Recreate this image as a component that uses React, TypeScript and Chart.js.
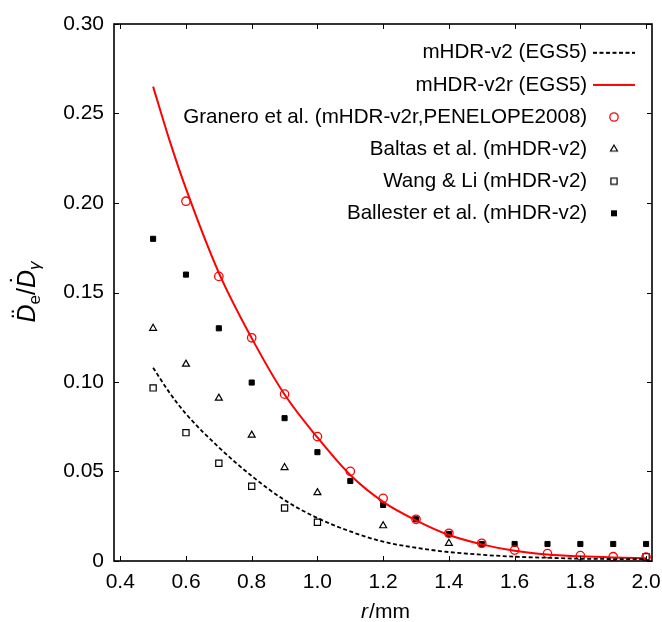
import React, { useEffect, useRef } from 'react';
import { Chart, registerables } from 'chart.js';

Chart.register(...registerables);

// ---- data ----
const curveX = [0.5, 0.55, 0.6, 0.7, 0.8, 0.9, 1.0, 1.1, 1.2, 1.3, 1.4, 1.5, 1.6, 1.7, 1.8, 1.9, 2.0];
const mhdrV2Egs5 = [0.108, 0.094, 0.0822, 0.0635, 0.0475, 0.034, 0.024, 0.0165, 0.0108, 0.0074, 0.005, 0.0035, 0.0024, 0.0018, 0.0013, 0.0011, 0.001];
const mhdrV2rEgs5 = [0.265, 0.235, 0.208, 0.161, 0.1245, 0.093, 0.069, 0.048, 0.033, 0.0227, 0.0145, 0.0093, 0.0057, 0.0036, 0.0026, 0.002, 0.0016];

const graneroX = [0.6, 0.7, 0.8, 0.9, 1.0, 1.1, 1.2, 1.3, 1.4, 1.5, 1.6, 1.7, 1.8, 1.9, 2.0];
const graneroY = [0.201, 0.159, 0.1247, 0.0932, 0.0695, 0.0501, 0.035, 0.0233, 0.0155, 0.0099, 0.0061, 0.0041, 0.003, 0.0024, 0.0022];

const baltasX = [0.5, 0.6, 0.7, 0.8, 0.9, 1.0, 1.2, 1.4];
const baltasY = [0.13, 0.11, 0.091, 0.0703, 0.0522, 0.0382, 0.0197, 0.0099];

const wangX = [0.5, 0.6, 0.7, 0.8, 0.9, 1.0, 2.0];
const wangY = [0.0967, 0.0717, 0.0546, 0.0418, 0.0296, 0.0216, 0.0024];

const ballesterX = [0.5, 0.6, 0.7, 0.8, 0.9, 1.0, 1.1, 1.2, 1.3, 1.4, 1.5, 1.6, 1.7, 1.8, 1.9, 2.0];
const ballesterY = [0.18, 0.16, 0.13, 0.0997, 0.0798, 0.0608, 0.0447, 0.0313, 0.0233, 0.0151, 0.0095, 0.0095, 0.0095, 0.0095, 0.0095, 0.0095];

const legendLabels = [
  'mHDR-v2 (EGS5)',
  'mHDR-v2r (EGS5)',
  'Granero et al. (mHDR-v2r,PENELOPE2008)',
  'Baltas et al. (mHDR-v2)',
  'Wang & Li (mHDR-v2)',
  'Ballester et al. (mHDR-v2)',
];

const xTicks = [0.4, 0.6, 0.8, 1.0, 1.2, 1.4, 1.6, 1.8, 2.0];
const yTicks = [0, 0.05, 0.1, 0.15, 0.2, 0.25, 0.3];
const xTitleItalic = 'r';
const xTitleRest = '/mm';

const FONT = "'Liberation Sans', Arial, sans-serif";
const RED = '#ff0000';

const zip = (xs: number[], ys: number[]) => xs.map((x, i) => ({ x, y: ys[i] }));

function makeIcon(draw: (c: CanvasRenderingContext2D, cx: number, cy: number) => void) {
  const cv = document.createElement('canvas');
  cv.width = 52;
  cv.height = 14;
  const c = cv.getContext('2d')!;
  draw(c, 21, 7);
  return cv;
}

// places the legend box against the top-right corner of the plot area
const legendCorner = {
  id: 'legendCorner',
  afterLayout(chart: any) {
    const lg = chart.legend;
    const a = chart.chartArea;
    if (!lg || !a) return;
    lg.left = a.right - lg.width;
    lg.right = a.right;
    lg.top = a.top;
    lg.bottom = a.top + lg.height;
  },
};

const frameAndTicks = {
  id: 'frameAndTicks',
  afterDatasetsDraw(chart: any) {
    const { ctx, chartArea: a, scales } = chart;
    ctx.save();
    ctx.strokeStyle = '#000';
    ctx.lineWidth = 1;
    const L = 5;
    ctx.beginPath();
    for (const v of xTicks) {
      const px = Math.round(scales.x.getPixelForValue(v)) + 0.5;
      ctx.moveTo(px, a.bottom);
      ctx.lineTo(px, a.bottom - L);
      ctx.moveTo(px, a.top);
      ctx.lineTo(px, a.top + L);
    }
    for (const v of yTicks) {
      const py = Math.round(scales.y.getPixelForValue(v)) + 0.5;
      ctx.moveTo(a.left, py);
      ctx.lineTo(a.left + L, py);
      ctx.moveTo(a.right, py);
      ctx.lineTo(a.right - L, py);
    }
    ctx.stroke();
    ctx.lineWidth = 1.6;
    ctx.strokeRect(a.left, a.top, a.right - a.left, a.bottom - a.top);
    ctx.restore();
  },
  afterDraw(chart: any) {
    const { ctx, chartArea: a } = chart;
    ctx.save();
    ctx.fillStyle = '#000';
    ctx.textBaseline = 'alphabetic';
    ctx.textAlign = 'left';
    // x title
    ctx.font = `italic 21px ${FONT}`;
    const w1 = ctx.measureText(xTitleItalic).width;
    ctx.font = `21px ${FONT}`;
    const w2 = ctx.measureText(xTitleRest).width;
    const cx = (a.left + a.right) / 2 + 2;
    const x0 = cx - (w1 + w2) / 2;
    ctx.font = `italic 21px ${FONT}`;
    ctx.fillText(xTitleItalic, x0, 618);
    ctx.font = `21px ${FONT}`;
    ctx.fillText(xTitleRest, x0 + w1 + 1, 618);

    // y title: D̈e / Ḋγ
    ctx.translate(35, 292);
    ctx.rotate(-Math.PI / 2);
    const big = `italic 25px ${FONT}`;
    const bigUp = `25px ${FONT}`;
    const sub = `17px ${FONT}`;
    const subIt = `italic 17px ${FONT}`;
    const segs: [string, string, number, string][] = [
      ['D', big, 0, '\u00A8'],
      ['e', sub, 5, ''],
      ['/', bigUp, 0, ''],
      ['D', big, 0, '\u02D9'],
      ['\u03B3', subIt, 5, ''],
    ];
    let total = 0;
    const widths = segs.map(([t, f]) => {
      ctx.font = f;
      const w = ctx.measureText(t).width;
      total += w;
      return w;
    });
    let x = -total / 2;
    segs.forEach(([t, f, dy, acc], i) => {
      ctx.font = f;
      ctx.fillText(t, x, dy);
      if (acc) {
        ctx.font = `25px ${FONT}`;
        ctx.textAlign = 'center';
        ctx.fillText(acc, x + widths[i] * 0.5, -6);
        ctx.textAlign = 'left';
      }
      x += widths[i];
    });
    ctx.restore();
  },
};

export default function App() {
  const ref = useRef<HTMLCanvasElement>(null);

  useEffect(() => {
    document.body.style.margin = '0';
    Chart.defaults.font.family = FONT;
    Chart.defaults.color = '#000';

    const icons = [
      makeIcon((c, cx, cy) => {
        c.strokeStyle = '#000';
        c.lineWidth = 1.8;
        c.setLineDash([4, 2.5]);
        c.beginPath();
        c.moveTo(cx - 21, cy);
        c.lineTo(cx + 21, cy);
        c.stroke();
      }),
      makeIcon((c, cx, cy) => {
        c.strokeStyle = RED;
        c.lineWidth = 2;
        c.beginPath();
        c.moveTo(cx - 21, cy);
        c.lineTo(cx + 21, cy);
        c.stroke();
      }),
      makeIcon((c, cx, cy) => {
        c.strokeStyle = RED;
        c.lineWidth = 1.3;
        c.beginPath();
        c.arc(cx, cy, 4.2, 0, Math.PI * 2);
        c.stroke();
      }),
      makeIcon((c, cx, cy) => {
        c.strokeStyle = '#000';
        c.lineWidth = 1.2;
        const r = 4;
        c.beginPath();
        c.moveTo(cx, cy - r);
        c.lineTo(cx + r * Math.sin((2 * Math.PI) / 3), cy - r * Math.cos((2 * Math.PI) / 3));
        c.lineTo(cx + r * Math.sin((4 * Math.PI) / 3), cy - r * Math.cos((4 * Math.PI) / 3));
        c.closePath();
        c.stroke();
      }),
      makeIcon((c, cx, cy) => {
        c.strokeStyle = '#000';
        c.lineWidth = 1.2;
        c.strokeRect(cx - 3.1, cy - 3.1, 6.2, 6.2);
      }),
      makeIcon((c, cx, cy) => {
        c.fillStyle = '#000';
        c.fillRect(cx - 3, cy - 3, 6, 6);
      }),
    ];

    const datasets: any[] = [
      {
        label: legendLabels[0],
        data: zip(curveX, mhdrV2Egs5),
        borderColor: '#000',
        borderWidth: 1.8,
        borderDash: [4, 2.5],
        pointRadius: 0,
        fill: false,
        cubicInterpolationMode: 'monotone',
      },
      {
        label: legendLabels[1],
        data: zip(curveX, mhdrV2rEgs5),
        borderColor: RED,
        borderWidth: 2,
        pointRadius: 0,
        fill: false,
        cubicInterpolationMode: 'monotone',
      },
      {
        label: legendLabels[2],
        data: zip(graneroX, graneroY),
        showLine: false,
        pointStyle: 'circle',
        pointRadius: 4.2,
        pointBorderWidth: 1.3,
        pointBorderColor: RED,
        pointBackgroundColor: 'rgba(0,0,0,0)',
      },
      {
        label: legendLabels[3],
        data: zip(baltasX, baltasY),
        showLine: false,
        pointStyle: 'triangle',
        pointRadius: 4,
        pointBorderWidth: 1.2,
        pointBorderColor: '#000',
        pointBackgroundColor: 'rgba(0,0,0,0)',
      },
      {
        label: legendLabels[4],
        data: zip(wangX, wangY),
        showLine: false,
        pointStyle: 'rect',
        pointRadius: 4.4,
        pointBorderWidth: 1.2,
        pointBorderColor: '#000',
        pointBackgroundColor: 'rgba(0,0,0,0)',
      },
      {
        label: legendLabels[5],
        data: zip(ballesterX, ballesterY),
        showLine: false,
        pointStyle: 'rect',
        pointRadius: 3.6,
        pointBorderWidth: 1,
        pointBorderColor: '#000',
        pointBackgroundColor: '#000',
      },
    ];

    const chart = new Chart(ref.current!, {
      type: 'line',
      data: { datasets },
      plugins: [legendCorner, frameAndTicks],
      options: {
        responsive: false,
        animation: false,
        devicePixelRatio: 1,
        layout: { padding: { left: 0, top: 24, right: 10, bottom: 0 } },
        scales: {
          x: {
            type: 'linear',
            min: 0.381,
            max: 2.018,
            grid: { display: false, drawTicks: false },
            border: { display: false },
            ticks: {
              padding: 9,
              font: { size: 21 },
              color: '#000',
              callback: (v: any) => Number(v).toFixed(1),
            },
            afterBuildTicks: (s: any) => {
              s.ticks = xTicks.map((value) => ({ value }));
            },
            afterFit: (s: any) => {
              s.height = 61;
              s.paddingLeft = 0;
              s.paddingRight = 0;
            },
          },
          y: {
            type: 'linear',
            min: 0,
            max: 0.3,
            grid: { display: false, drawTicks: false },
            border: { display: false },
            ticks: {
              padding: 10,
              font: { size: 21 },
              color: '#000',
              callback: (v: any) => (Number(v) === 0 ? '0' : Number(v).toFixed(2)),
            },
            afterBuildTicks: (s: any) => {
              s.ticks = yTicks.map((value) => ({ value }));
            },
            afterFit: (s: any) => {
              s.width = 114;
              s.paddingTop = 0;
              s.paddingBottom = 0;
            },
          },
        },
        plugins: {
          tooltip: { enabled: false },
          legend: {
            position: 'chartArea',
            align: 'start',
            rtl: true,
            title: { display: true, text: '', padding: 0, font: { size: 7, lineHeight: 1 } },
            labels: {
              usePointStyle: true,
              pointStyleWidth: 43,
              padding: 11.5,
              font: { size: 20.6 },
              color: '#000',
              generateLabels: () =>
                legendLabels.map((text, i) => ({
                  text,
                  pointStyle: icons[i],
                  fillStyle: 'rgba(0,0,0,0)',
                  strokeStyle: 'rgba(0,0,0,0)',
                  lineWidth: 0,
                  hidden: false,
                  datasetIndex: i,
                  fontColor: '#000',
                })),
            },
          },
        },
      } as any,
    });
    return () => chart.destroy();
  }, []);

  return (
    <div style={{ width: 662, height: 622 }}>
      <canvas ref={ref} width={662} height={622} style={{ display: 'block' }} />
    </div>
  );
}
